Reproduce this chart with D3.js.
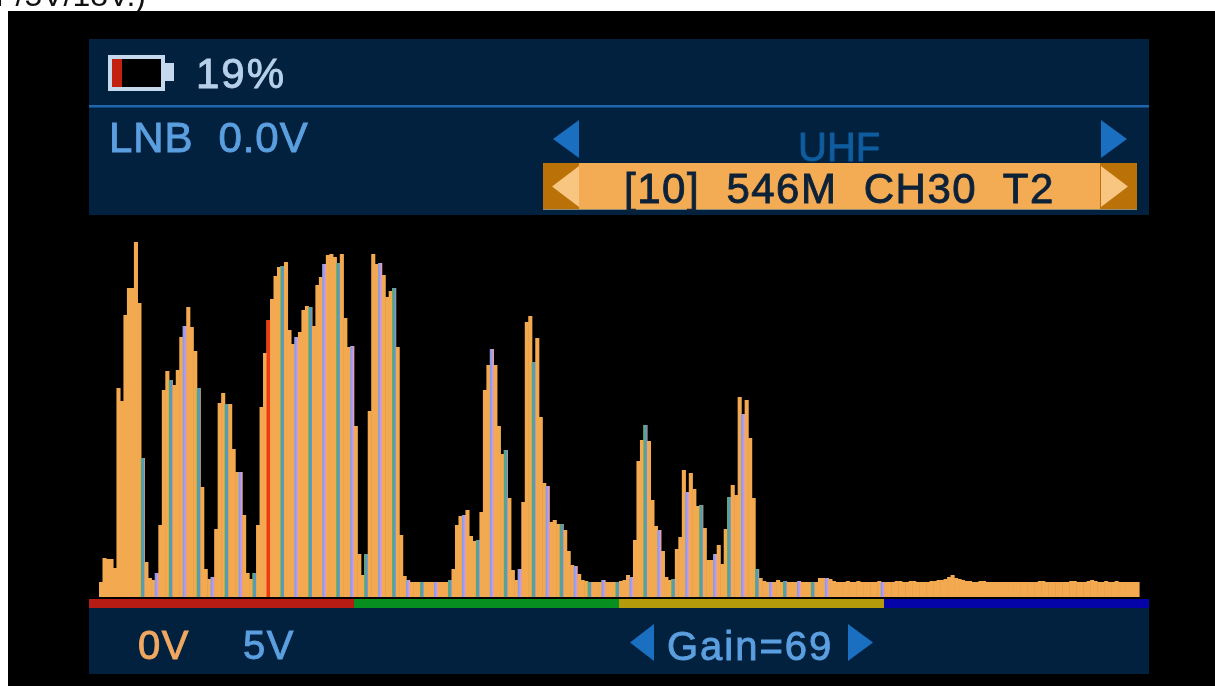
<!DOCTYPE html>
<html>
<head>
<meta charset="utf-8">
<script src="https://cdn.jsdelivr.net/npm/d3@7"></script>
<style>
html, body { margin: 0; padding: 0; background: #fff; }
svg { display: block; filter: blur(0.4px); }
text { font-family: "Liberation Sans", Arial, sans-serif; }
</style>
</head>
<body>
<svg id="chart" width="1215" height="686"></svg>
<script>
// spectrum level per step, left to right
var levels = [
    15, 39, 38, 38, 29, 209, 196, 282, 309, 309,
    355, 294, 139, 35, 19, 17, 24, 72, 207, 226,
    217, 212, 227, 260, 271, 290, 270, 246, 209, 110,
    28, 18, 20, 68, 194, 204, 193, 193, 148, 125,
    125, 82, 24, 18, 24, 72, 190, 244, 277, 298,
    321, 330, 331, 335, 267, 253, 260, 265, 287, 291,
    290, 271, 312, 320, 333, 342, 343, 340, 334, 343,
    279, 250, 251, 171, 43, 22, 43, 186, 343, 333,
    334, 322, 300, 306, 309, 250, 62, 21, 17, 15,
    15, 15, 15, 15, 15, 15, 15, 15, 15, 15,
    17, 28, 72, 81, 82, 87, 61, 56, 57, 85,
    207, 232, 248, 232, 171, 143, 147, 99, 27, 17,
    28, 95, 275, 281, 235, 259, 180, 114, 111, 75,
    77, 73, 73, 67, 46, 32, 31, 23, 17, 16,
    15, 15, 15, 15, 17, 15, 15, 15, 15, 16,
    17, 22, 20, 57, 136, 157, 172, 156, 97, 71,
    67, 46, 20, 17, 18, 48, 60, 127, 105, 124,
    108, 91, 92, 69, 37, 37, 43, 52, 33, 68,
    100, 112, 102, 200, 183, 197, 159, 99, 28, 19,
    16, 15, 15, 15, 17, 15, 16, 15, 15, 15,
    16, 15, 15, 15, 15, 15, 19, 19, 19, 18,
    16, 15, 15, 15, 16, 15, 15, 16, 15, 15,
    15, 15, 15, 16, 15, 15, 15, 15, 16, 16,
    15, 15, 16, 16, 15, 15, 15, 15, 16, 16,
    17, 17, 18, 20, 22, 19, 18, 17, 16, 16,
    15, 15, 16, 16, 15, 15, 15, 15, 15, 15,
    15, 15, 15, 15, 15, 15, 15, 15, 15, 16,
    16, 15, 15, 15, 15, 15, 15, 15, 16, 16,
    15, 15, 15, 16, 17, 16, 15, 15, 16, 15,
    15, 16, 15, 15, 15, 15, 15, 15
];
var currentStep = 48;
var stripedFrom = 12;
var stripedTo = 208;
var loneStripe = 224;

var bands = ["A", "B", "C", "D"];
var bandColors = ["#b71c14", "#07901f", "#b49b0c", "#0404a8"];

var svg = d3.select("#chart");

svg.append("rect").attr("x", 8).attr("y", 11).attr("width", 1207).attr("height", 675).attr("fill", "#000");

// clipped caption of the page this was cut from, the black box hides its top
svg.insert("text", "rect").attr("x", -4).attr("y", 6).attr("font-size", 32).attr("fill", "#111").text("r /5V/18V.)");

// panels
var panel = "#02213e";
svg.append("rect").attr("x", 89).attr("y", 39).attr("width", 1060).attr("height", 176).attr("fill", panel);
svg.append("rect").attr("x", 89).attr("y", 608).attr("width", 1060).attr("height", 66).attr("fill", panel);
svg.append("rect").attr("x", 89).attr("y", 105).attr("width", 1060).attr("height", 2.5).attr("fill", "#1f66ae");

// gradients for the colour fringed bars
var defs = svg.append("defs");
function fringe(id, a, b) {
    var g = defs.append("linearGradient").attr("id", id);
    g.append("stop").attr("offset", "0%").attr("stop-color", a);
    g.append("stop").attr("offset", "100%").attr("stop-color", b);
}
fringe("fringeA", "#4fb060", "#5a8ff0");
fringe("fringeB", "#6f9ff0", "#dc98ec");

var x = d3.scaleBand().domain(d3.range(levels.length)).range([99, 1139]);
var y = d3.scaleLinear().domain([0, 360]).range([597, 237]);

var steps = levels.map((d, i) => ({ level: d, i: i }));

function isStriped(s) {
    return (s.i >= stripedFrom && s.i <= stripedTo && s.i % 4 === 0) || s.i === loneStripe;
}

// plain bars overlap a little so no seams show, fringed ones go on top
svg.append("g").selectAll("rect")
    .data(steps)
    .enter()
    .append("rect")
    .attr("x", d => x(d.i))
    .attr("y", d => y(d.level))
    .attr("width", x.bandwidth() + 0.6)
    .attr("height", d => y(0) - y(d.level))
    .attr("fill", "#f2a950");

svg.append("g").selectAll("rect")
    .data(steps.filter(d => isStriped(d) || d.i === currentStep))
    .enter()
    .append("rect")
    .attr("x", d => x(d.i))
    .attr("y", d => y(d.level))
    .attr("width", x.bandwidth())
    .attr("height", d => y(0) - y(d.level))
    .attr("fill", d => {
        if (d.i === currentStep) return "#f03a12";
        return d.i % 8 === 4 ? "url(#fringeA)" : "url(#fringeB)";
    });

// coloured band strip under the spectrum
var xBand = d3.scaleBand().domain(bands).range([89, 1149]);
svg.append("g").selectAll("rect")
    .data(bands)
    .enter()
    .append("rect")
    .attr("x", d => xBand(d))
    .attr("y", 599)
    .attr("width", xBand.bandwidth())
    .attr("height", 9)
    .attr("fill", (d, i) => bandColors[i]);

// battery
svg.append("rect").attr("x", 110).attr("y", 57).attr("width", 53).attr("height", 32).attr("fill", "#000").attr("stroke", "#c5d8ee").attr("stroke-width", 4);
svg.append("rect").attr("x", 112).attr("y", 59).attr("width", 10).attr("height", 28).attr("fill", "#c4200f");
svg.append("rect").attr("x", 165).attr("y", 63).attr("width", 9).attr("height", 18).attr("fill", "#c5d8ee");

function label(txt, px, py, size, color, spacing) {
    svg.append("text").attr("x", px).attr("y", py).attr("font-size", size)
        .attr("fill", color).attr("stroke", color).attr("stroke-width", 0.9)
        .attr("letter-spacing", spacing || 0)
        .style("white-space", "pre").text(txt);
}
label("19%", 196, 88, 42, "#b7d0ea", 2);
label("LNB  0.0V", 109, 152, 42, "#5b9fe0", 0.9);

label("UHF", 798, 161, 40, "#0f5c9f", 0);

// highlighted channel row
svg.append("rect").attr("x", 543).attr("y", 163).attr("width", 594).attr("height", 47).attr("fill", "#f3ab54");
svg.append("rect").attr("x", 543).attr("y", 163).attr("width", 36).attr("height", 47).attr("fill", "#ba7108");
svg.append("rect").attr("x", 1100).attr("y", 163).attr("width", 37).attr("height", 47).attr("fill", "#ba7108");
svg.append("rect").attr("x", 543).attr("y", 209).attr("width", 594).attr("height", 1).attr("fill", "#8f8f78");
label("[10]  546M  CH30  T2", 624, 203, 42, "#0d2238", 1.5);

function arrow(xBase, xTip, yTop, yBottom, color) {
    svg.append("path")
        .attr("d", d3.line()([[xBase, yTop], [xTip, (yTop + yBottom) / 2], [xBase, yBottom]]) + "Z")
        .attr("fill", color);
}
arrow(579, 553, 120, 158, "#1a6fc0");
arrow(1101, 1127, 120, 158, "#1a6fc0");
arrow(579, 552, 166, 207, "#f8c680");
arrow(1101, 1128, 166, 207, "#f8c680");
arrow(654, 630, 624, 661, "#1a6fc0");
arrow(848, 873, 624, 661, "#1a6fc0");

label("0V", 138, 659, 40, "#f0a860", 1.5);
label("5V", 243, 659, 40, "#5b9fe0", 1.5);
label("Gain=69", 667, 660, 40, "#5b9fe0", 2);
</script>
</body>
</html>
